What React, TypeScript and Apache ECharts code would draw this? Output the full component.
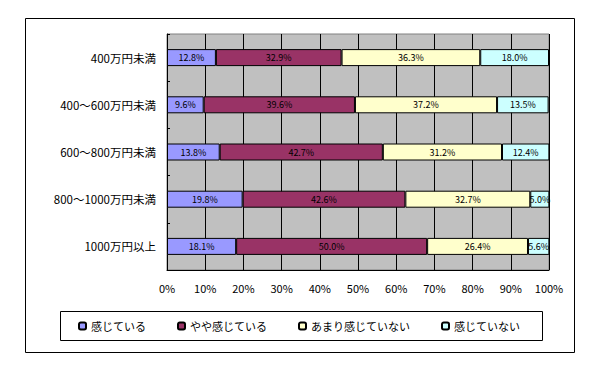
import React, { useEffect, useRef } from "react";
import * as echarts from "echarts";

const categories = ["400万円未満", "400～600万円未満", "600～800万円未満", "800～1000万円未満", "1000万円以上"];
const seriesNames = ["感じている", "やや感じている", "あまり感じていない", "感じていない"];
const kanjite = [12.8, 9.6, 13.8, 19.8, 18.1];
const yaya = [32.9, 39.6, 42.7, 42.6, 50.0];
const amari = [36.3, 37.2, 31.2, 32.7, 26.4];
const kanjinai = [18.0, 13.5, 12.4, 5.0, 5.6];
const colors = ["#9999FF", "#993366", "#FFFFCC", "#CCFFFF"];

const FONT = "'Noto Sans CJK JP', sans-serif";

export default function App() {
  const ref = useRef<HTMLDivElement>(null);
  useEffect(() => {
    document.body.style.margin = "0";
    const chart = echarts.init(ref.current!, undefined, { renderer: "svg" });
    const datas = [kanjite, yaya, amari, kanjinai];
    chart.setOption({
      animation: false,
      textStyle: { fontFamily: FONT },
      grid: {
        left: 167,
        top: 34,
        right: 51,
        bottom: 105,
        show: true,
        backgroundColor: "#C0C0C0",
        borderColor: "#808080",
        borderWidth: 1,
      },
      xAxis: {
        type: "value",
        min: 0,
        max: 100,
        interval: 10,
        axisLine: { show: true, lineStyle: { color: "#000", width: 1 } },
        axisTick: { show: false },
        splitLine: { show: true, lineStyle: { color: "#000", width: 1 } },
        axisLabel: { formatter: "{value}%", color: "#000", fontSize: 11, margin: 12, fontFamily: FONT },
      },
      yAxis: {
        type: "category",
        inverse: true,
        data: categories,
        axisLine: { show: true, lineStyle: { color: "#000", width: 1 } },
        axisTick: { show: true, inside: true, length: 3, lineStyle: { color: "#000" } },
        axisLabel: { color: "#000", fontSize: 11.5, margin: 11, fontFamily: FONT },
      },
      legend: {
        left: 78,
        top: 319,
        padding: 0,
        itemGap: 31,
        itemWidth: 7,
        itemHeight: 7,
        textStyle: { fontSize: 11, color: "#000", fontFamily: FONT, lineHeight: 14 },
        data: seriesNames,
      },
      graphic: [
        {
          type: "rect",
          shape: { x: 25.5, y: 18.5, width: 549, height: 334 },
          style: { fill: "none", stroke: "#000", lineWidth: 1 },
          z: -10,
          silent: true,
        },
        {
          type: "rect",
          shape: { x: 60.5, y: 311.5, width: 482, height: 29 },
          style: { fill: "#fff", stroke: "#000", lineWidth: 1 },
          z: -5,
          silent: true,
        },
      ],
      series: seriesNames.map((name, i) => ({
        name,
        type: "bar",
        stack: "total",
        barWidth: 17,
        data: datas[i],
        itemStyle: { color: colors[i], borderColor: "#000", borderWidth: 1 },
        label: {
          show: true,
          position: "inside",
          formatter: (p: any) => Number(p.value).toFixed(1) + "%",
          fontSize: 9,
          color: "#000",
          fontFamily: FONT,
        },
      })),
    });
    return () => chart.dispose();
  }, []);
  return <div ref={ref} style={{ width: 600, height: 375 }} />;
}
